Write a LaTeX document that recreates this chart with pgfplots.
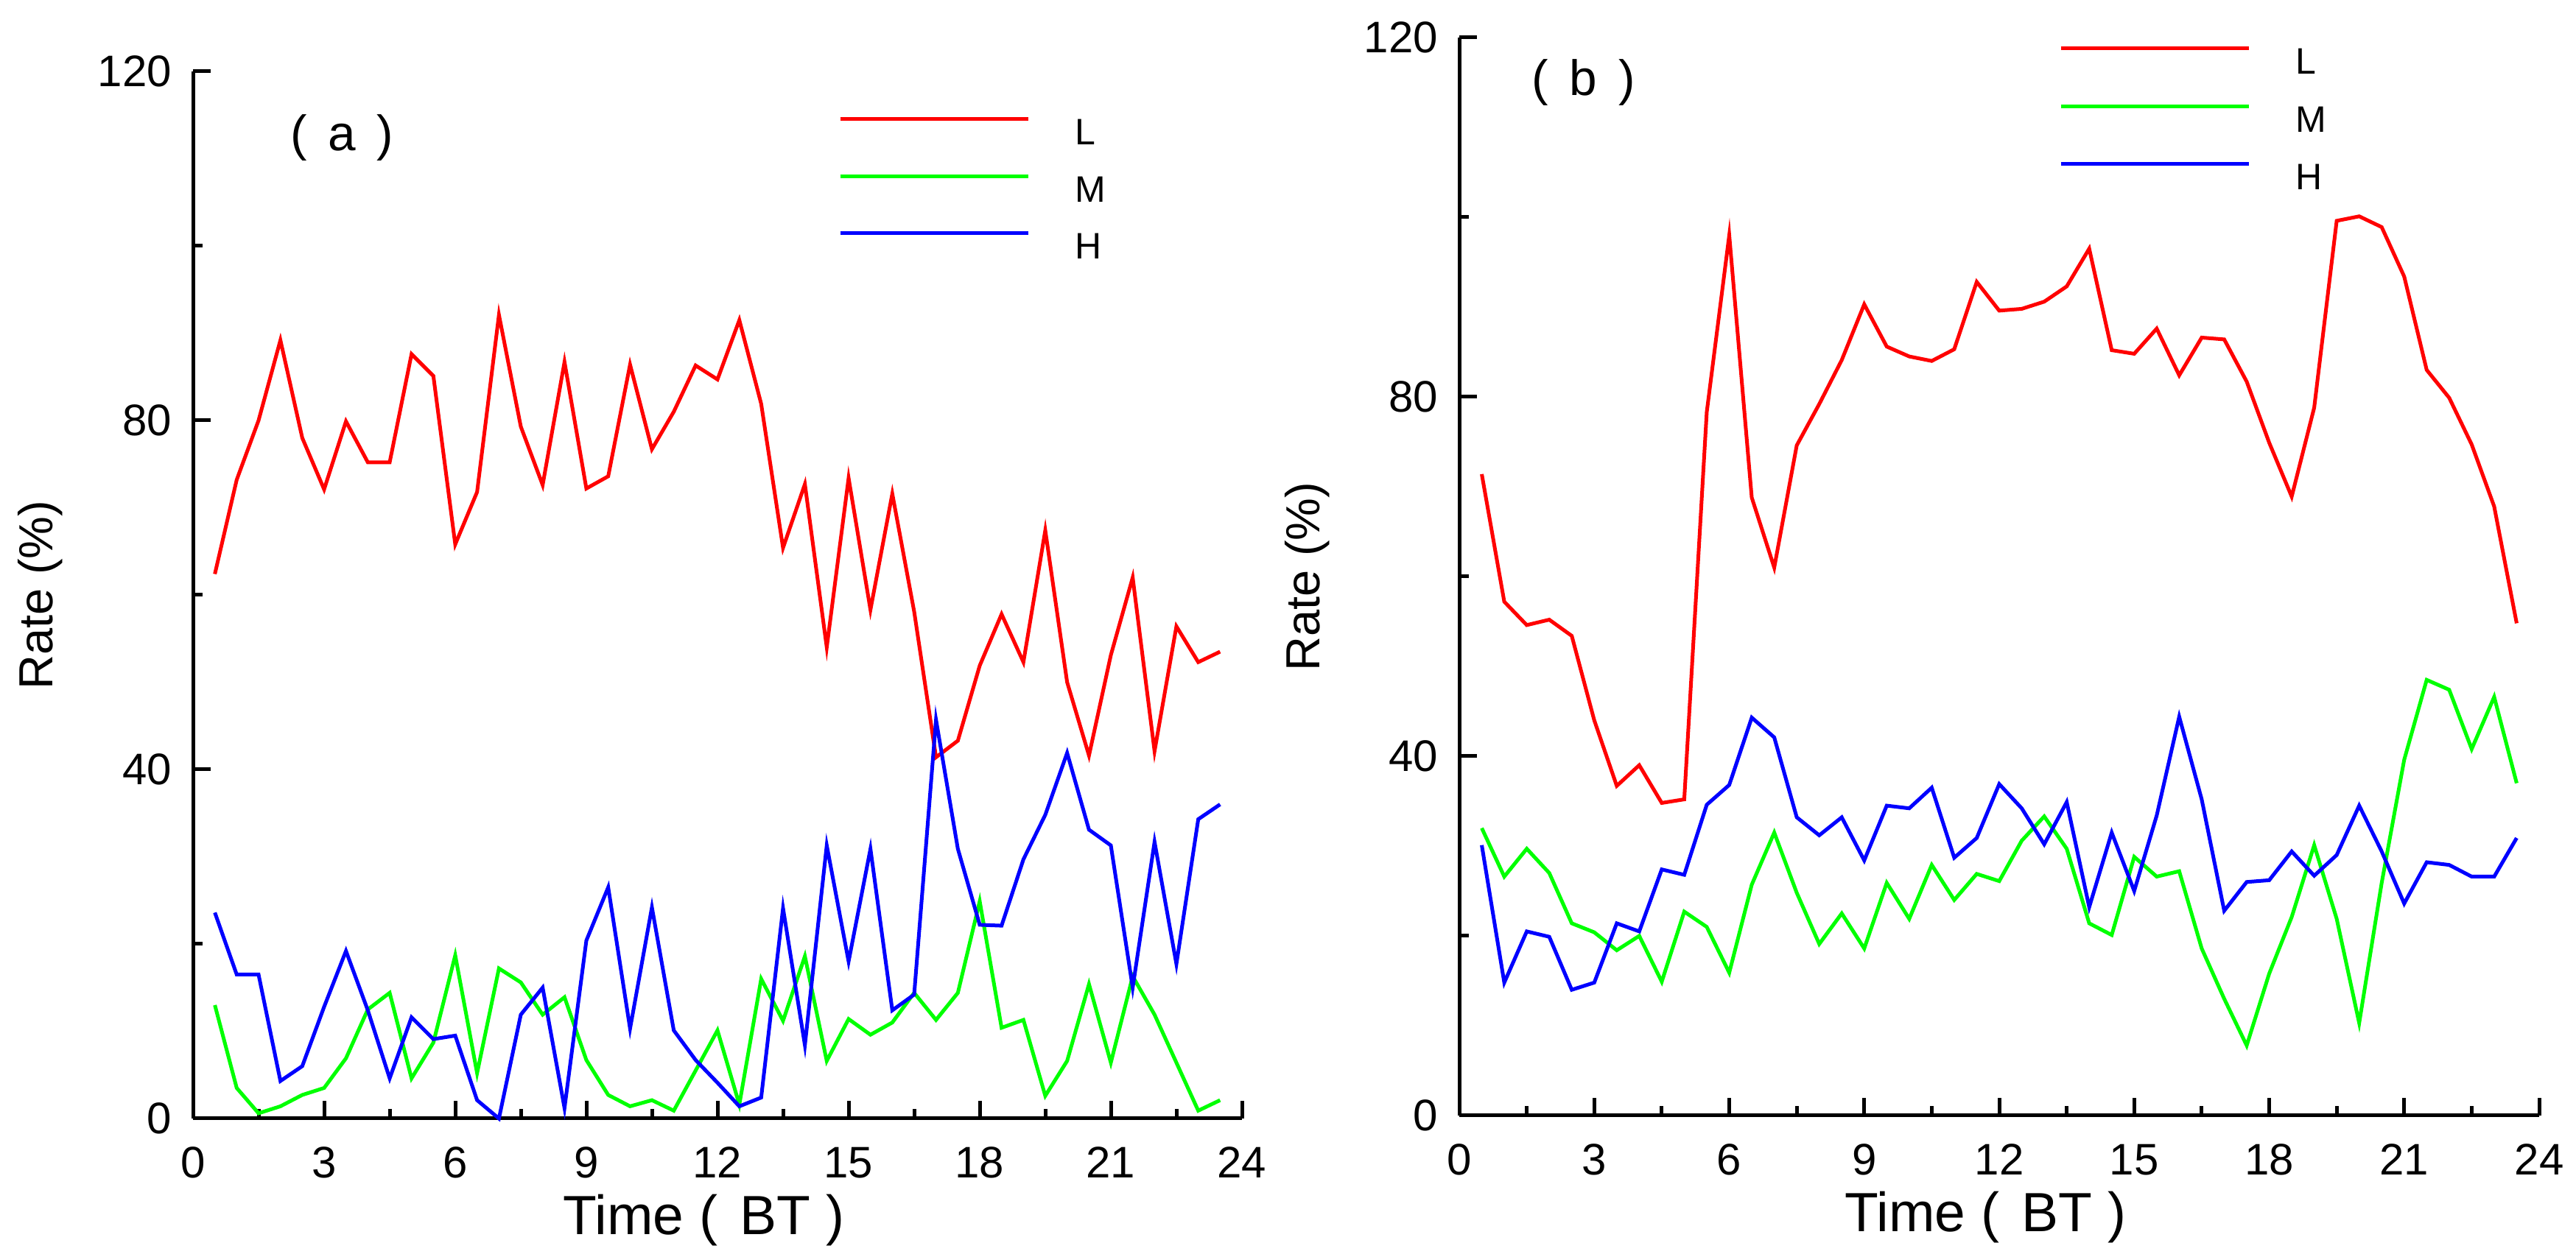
\documentclass[border=0pt]{standalone}
\usepackage{fontspec}
\setmainfont{Liberation Sans}
\usepackage{pgfplots}
\usepackage{pgfplotstable}
\pgfplotsset{compat=1.18}

\pgfplotstableread{
t L M H
0.5 62.4 13.0 23.6
1.0 73.2 3.5 16.5
1.5 80.0 0.6 16.5
2.0 89.2 1.4 4.3
2.5 78.0 2.7 6.0
3.0 72.1 3.5 12.8
3.5 79.9 6.9 19.2
4.0 75.2 12.5 12.4
4.5 75.2 14.4 4.6
5.0 87.6 4.6 11.6
5.5 85.1 8.7 9.1
6.0 65.8 18.7 9.5
6.5 71.8 5.2 2.1
7.0 92.1 17.2 0.0
7.5 79.3 15.6 11.9
8.0 72.6 11.9 15.0
8.5 86.7 13.9 1.2
9.0 72.2 6.7 20.4
9.5 73.6 2.7 26.5
10.0 86.4 1.4 10.3
10.5 76.7 2.1 24.2
11.0 81.0 0.9 10.1
11.5 86.3 5.5 6.7
12.0 84.7 10.1 4.1
12.5 91.5 1.6 1.4
13.0 81.9 16.0 2.4
13.5 65.4 11.2 24.1
14.0 72.7 18.6 8.4
14.5 54.0 6.6 31.3
15.0 73.4 11.4 18.0
15.5 58.3 9.6 30.9
16.0 71.6 11.0 12.4
16.5 58.1 14.4 14.2
17.0 41.4 11.3 45.7
17.5 43.3 14.4 30.9
18.0 51.9 24.9 22.2
18.5 57.8 10.4 22.1
19.0 52.3 11.3 29.7
19.5 67.4 2.6 34.8
20.0 50.0 6.6 41.9
20.5 41.6 15.4 33.1
21.0 53.1 6.4 31.3
21.5 62.0 16.3 15.0
22.0 42.1 11.9 31.7
22.5 56.4 6.4 17.7
23.0 52.3 0.9 34.3
23.5 53.5 2.1 36.0
}\dataA

\pgfplotstableread{
t L M H
0.5 71.4 32.0 30.1
1.0 57.2 26.6 14.8
1.5 54.6 29.7 20.5
2.0 55.2 27.0 19.9
2.5 53.4 21.4 14.0
3.0 44.0 20.4 14.8
3.5 36.7 18.4 21.4
4.0 39.0 20.0 20.5
4.5 34.8 14.9 27.4
5.0 35.2 22.7 26.8
5.5 78.3 21.0 34.6
6.0 98.0 15.9 36.8
6.5 68.8 25.7 44.3
7.0 61.0 31.5 42.1
7.5 74.6 24.8 33.2
8.0 79.2 19.1 31.2
8.5 84.1 22.5 33.2
9.0 90.3 18.6 28.4
9.5 85.6 25.9 34.5
10.0 84.5 21.9 34.2
10.5 84.0 27.9 36.5
11.0 85.3 24.0 28.7
11.5 92.8 26.9 30.9
12.0 89.6 26.1 36.9
12.5 89.8 30.6 34.2
13.0 90.6 33.3 30.2
13.5 92.3 29.7 34.9
14.0 96.5 21.4 23.2
14.5 85.2 20.1 31.5
15.0 84.8 28.8 25.0
15.5 87.6 26.6 33.4
16.0 82.4 27.2 44.4
16.5 86.6 18.6 35.2
17.0 86.4 13.0 22.8
17.5 81.7 7.8 26.0
18.0 74.9 15.8 26.2
18.5 68.9 22.1 29.4
19.0 78.8 30.1 26.7
19.5 99.6 21.9 29.0
20.0 100.1 10.3 34.5
20.5 98.9 25.9 29.4
21.0 93.4 39.6 23.6
21.5 83.0 48.5 28.2
22.0 79.9 47.4 27.9
22.5 74.7 40.8 26.6
23.0 67.8 46.6 26.6
23.5 54.8 37.0 30.9
}\dataB

\pgfplotsset{
  panel/.style={
    scale only axis,
    anchor=south west,
    xmin=0, xmax=24, ymin=0, ymax=120,
    clip=false,
    axis x line*=bottom, axis y line*=left,
    axis line style={line width=1pt, black},
    xtick={0,3,...,24}, minor xtick={1.5,4.5,...,22.5},
    ytick={0,40,80,120}, minor ytick={20,60,100},
    xtick pos=left, ytick pos=left,
    tick align=inside,
    major tick length=4.7pt, minor tick length=2.5pt,
    tick style={line width=1pt, black},
    /pgf/number format/assume math mode=true,
    ticklabel style={font=\fontsize{12}{14}\selectfont, inner sep=0pt},
    xticklabel style={yshift=-7.6pt},
    yticklabel style={xshift=-5.6pt},
    xlabel={Time (\hspace{2pt} BT )},
    ylabel={Rate (\%)},
    xlabel style={at={([yshift=-31.6pt,xshift=-3.7pt]axis description cs:0.5,0)}, anchor=base, font=\fontsize{15}{18}\selectfont, inner sep=0pt},
    ylabel style={at={([xshift=-38pt]axis description cs:0,0.5)}, anchor=base, font=\fontsize{13}{15}\selectfont, inner sep=0pt},
    legend cell align=left,
    legend image code/.code={\draw[#1] (0pt,3.5pt) -- (51pt,3.5pt); \path[draw=none] (0pt,0pt) -- (63.8pt,0pt);},
    legend style={draw=none, fill=none, anchor=north west, inner sep=0pt,
      font=\fontsize{10}{12}\selectfont, row sep=8pt, column sep=0pt,
      nodes={inner sep=0pt, text height=7pt, text depth=0pt}},
    every axis plot/.append style={line width=1pt},
  }
}

\begin{document}
\begin{tikzpicture}
\useasboundingbox (0,0) rectangle (699.4pt,340.4pt);
\begin{axis}[panel, at={(52.4pt,36.6pt)}, width=284.8pt, height=284.4pt,
  legend style={at={(axis description cs:0.6145,0.9568)}}]
\addplot[red, no marks] table[x=t, y=L] {\dataA};
\addplot[green, no marks] table[x=t, y=M] {\dataA};
\addplot[blue, no marks] table[x=t, y=H] {\dataA};
\legend{L, M, H}
\node[font=\fontsize{13.5}{16}\selectfont] at (axis description cs:0.142,0.937) {(\hspace{2pt} a\hspace{2pt} )};
\end{axis}
\begin{axis}[panel, at={(396.2pt,37.4pt)}, width=293.2pt, height=292.8pt,
  legend style={at={(axis description cs:0.5546,0.9922)}, row sep=8.2pt}]
\addplot[red, no marks] table[x=t, y=L] {\dataB};
\addplot[green, no marks] table[x=t, y=M] {\dataB};
\addplot[blue, no marks] table[x=t, y=H] {\dataB};
\legend{L, M, H}
\node[font=\fontsize{13.5}{16}\selectfont] at (axis description cs:0.115,0.958) {(\hspace{2pt} b\hspace{2pt} )};
\end{axis}
\end{tikzpicture}
\end{document}
